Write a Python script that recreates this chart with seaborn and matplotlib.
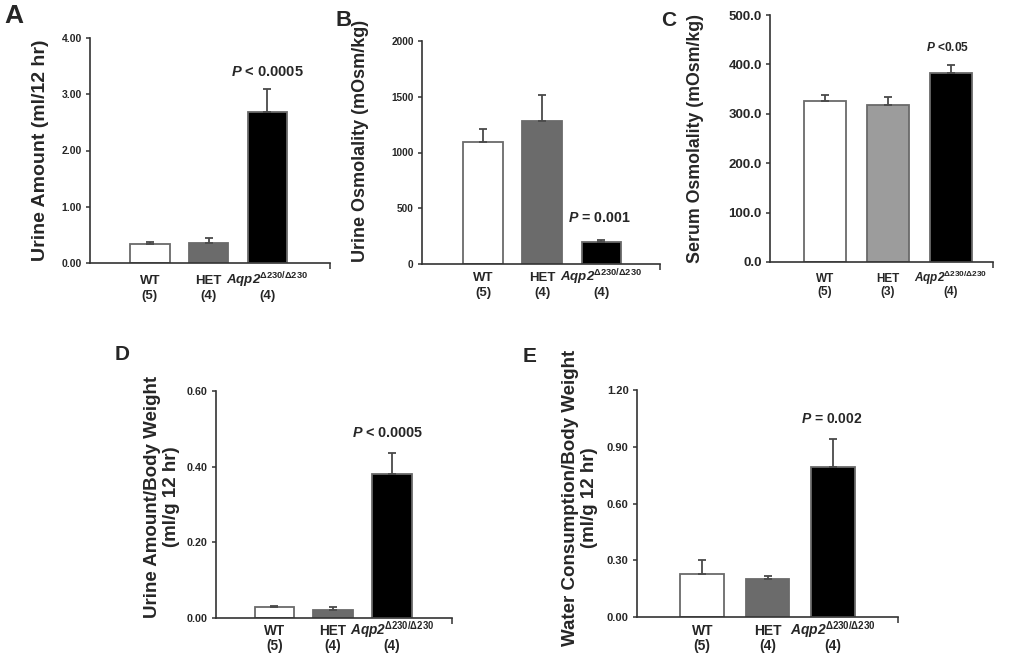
import numpy as np
import pandas as pd
import matplotlib
matplotlib.use("Agg")
import matplotlib.pyplot as plt
from matplotlib.ticker import FormatStrFormatter
from matplotlib.transforms import offset_copy
import seaborn as sns

# ---------------- data ----------------
groups = ["WT", "HET", "Aqp2"]
mut_label = r"$\mathbfit{Aqp2}^{\mathbf{Δ230/Δ230}}$"
group_names = ["WT", "HET", mut_label]

a_mean = [0.33, 0.35, 2.69]
a_err = [0.05, 0.10, 0.41]
a_n = ["(5)", "(4)", "(4)"]

b_mean = [1095, 1280, 194]
b_err = [118, 232, 21]
b_n = ["(5)", "(4)", "(4)"]

c_mean = [325, 318, 382]
c_err = [13, 15, 17]
c_n = ["(5)", "(3)", "(4)"]

d_mean = [0.028, 0.022, 0.380]
d_err = [0.005, 0.008, 0.056]
d_n = ["(5)", "(4)", "(4)"]

e_mean = [0.226, 0.199, 0.794]
e_err = [0.074, 0.016, 0.148]
e_n = ["(5)", "(4)", "(4)"]

p_texts = ["< 0.0005", "= 0.001", "<0.05", "< 0.0005", "= 0.002"]

# ---------------- style ----------------
sns.set_theme(style="ticks")
plt.rcParams["font.family"] = ["Liberation Sans", "DejaVu Sans"]
plt.rcParams["font.weight"] = "bold"
plt.rcParams["mathtext.fontset"] = "custom"
plt.rcParams["mathtext.rm"] = "Liberation Sans"
plt.rcParams["mathtext.bf"] = "Liberation Sans:bold"
plt.rcParams["mathtext.it"] = "Liberation Sans:italic"
try:
    plt.rcParams["mathtext.bfit"] = "Liberation Sans:italic:bold"
except KeyError:
    pass

W, H = 1010, 660
fig = plt.figure(figsize=(W / 100, H / 100), dpi=100)
fig.patch.set_facecolor("white")

dark_gray = "#6b6b6b"
light_gray = "#9c9c9c"


def px_axes(left, top, right, bottom):
    return fig.add_axes([left / W, 1 - bottom / H, (right - left) / W, (bottom - top) / H])


panels = [
    dict(box=(90, 38, 330, 263), mean=a_mean, err=a_err, n=a_n, het=dark_gray,
         xlim=(-1.02, 3.07), ylim=4.0, ticks=[0, 1, 2, 3, 4], fmt="%.2f",
         ylabel="Urine Amount (ml/12 hr)", ylfs=14, ylx=-0.208, yly=0.50,
         tfs=7.5, xfs=9.5, lines=(21, 36), pfs=10.5, py=3.40, px=2.0,
         letter="A", lpos=(14, 16), lfs=19),
    dict(box=(422, 41, 660, 264), mean=b_mean, err=b_err, n=b_n, het=dark_gray,
         xlim=(-1.03, 2.99), ylim=2000, ticks=[0, 500, 1000, 1500, 2000], fmt="%d",
         ylabel="Urine Osmolality (mOsm/kg)", ylfs=13, ylx=-0.26, yly=0.55,
         tfs=7.2, xfs=9.5, lines=(17, 32), pfs=10.2, py=412, px=1.97,
         letter="B", lpos=(344, 20), lfs=16),
    dict(box=(770, 15, 993, 262), mean=c_mean, err=c_err, n=c_n, het=light_gray,
         xlim=(-0.87, 2.67), ylim=500, ticks=[0, 100, 200, 300, 400, 500], fmt="%.1f",
         ylabel="Serum Osmolality (mOsm/kg)", ylfs=12.8, ylx=-0.332, yly=0.50,
         tfs=9.5, xfs=8.5, lines=(20, 33), pfs=8.6, py=435, px=1.95,
         letter="C", lpos=(669, 20), lfs=15),
    dict(box=(216, 391, 452, 618), mean=d_mean, err=d_err, n=d_n, het=dark_gray,
         xlim=(-0.99, 3.02), ylim=0.6, ticks=[0, 0.2, 0.4, 0.6], fmt="%.2f",
         ylabel="Urine Amount/Body Weight\n(ml/g 12 hr)", ylfs=13.5, ylx=-0.229, yly=0.533,
         tfs=7.7, xfs=9.8, lines=(17, 32), pfs=10.4, py=0.489, px=1.93,
         letter="D", lpos=(122, 355), lfs=15),
    dict(box=(637, 390, 898, 617), mean=e_mean, err=e_err, n=e_n, het=dark_gray,
         xlim=(-1.0, 3.0), ylim=1.2, ticks=[0, 0.3, 0.6, 0.9, 1.2], fmt="%.2f",
         ylabel="Water Consumption/Body Weight\n(ml/g 12 hr)", ylfs=13.5, ylx=-0.218, yly=0.526,
         tfs=8, xfs=10, lines=(18, 33), pfs=10, py=1.047, px=1.99,
         letter="E", lpos=(530, 357), lfs=15),
]

for i, p in enumerate(panels):
    ax = px_axes(*p["box"])
    df = pd.DataFrame({"group": groups, "value": p["mean"]})
    palette = {"WT": "white", "HET": p["het"], "Aqp2": "black"}
    sns.barplot(data=df, x="group", y="value", hue="group", order=groups,
                hue_order=groups, palette=palette, saturation=1, width=0.67,
                edgecolor="#6a6a6a", linewidth=1.3, errorbar=None, legend=False, ax=ax)
    x = np.arange(len(groups))
    ax.errorbar(x, p["mean"], yerr=[np.zeros(len(groups)), p["err"]], fmt="none",
                ecolor="#4a4a4a", elinewidth=1.3, capsize=3, capthick=1.3, zorder=1)

    ax.set_xlim(*p["xlim"])
    ax.set_ylim(0, p["ylim"])
    ax.set_yticks(p["ticks"])
    ax.yaxis.set_major_formatter(FormatStrFormatter(p["fmt"]))
    ax.set_xticks(x)
    ax.set_xticklabels([])
    ax.set_xticks([p["xlim"][1]], minor=True)
    ax.tick_params(axis="x", which="major", length=0)
    ax.tick_params(axis="x", which="minor", length=4, width=1.1, color="#333333")
    ax.tick_params(axis="y", length=3, width=1.1, color="#333333", labelsize=p["tfs"], pad=3)
    for lab in ax.get_yticklabels():
        lab.set_fontweight("bold")

    # category labels: name line and n line
    t1 = offset_copy(ax.get_xaxis_transform(), fig=fig, x=0, y=-p["lines"][0], units="dots")
    t2 = offset_copy(ax.get_xaxis_transform(), fig=fig, x=0, y=-p["lines"][1], units="dots")
    for xi, name, nn in zip(x, group_names, p["n"]):
        ax.text(xi, 0, name, transform=t1, ha="center", va="baseline",
                fontsize=p["xfs"], fontweight="bold", clip_on=False)
        ax.text(xi, 0, nn, transform=t2, ha="center", va="baseline",
                fontsize=p["xfs"], fontweight="bold", clip_on=False)

    for s in ["top", "right"]:
        ax.spines[s].set_visible(False)
    for s in ["left", "bottom"]:
        ax.spines[s].set_color("#333333")
        ax.spines[s].set_linewidth(1.2)

    ax.set_xlabel("")
    ax.set_ylabel(p["ylabel"], fontsize=p["ylfs"], fontweight="bold", va="center",
                  linespacing=1.1)
    ax.yaxis.set_label_coords(p["ylx"], p["yly"])
    ax.set_facecolor("white")

    ax.text(p["px"], p["py"], r"$\mathbfit{P}$ " + p_texts[i], ha="center", va="center",
            fontsize=p["pfs"], fontweight="bold")

    fig.text(p["lpos"][0] / W, 1 - p["lpos"][1] / H, p["letter"], ha="center", va="center",
             fontsize=p["lfs"], fontweight="bold")

fig.savefig("out.png", dpi=100, facecolor="white")
